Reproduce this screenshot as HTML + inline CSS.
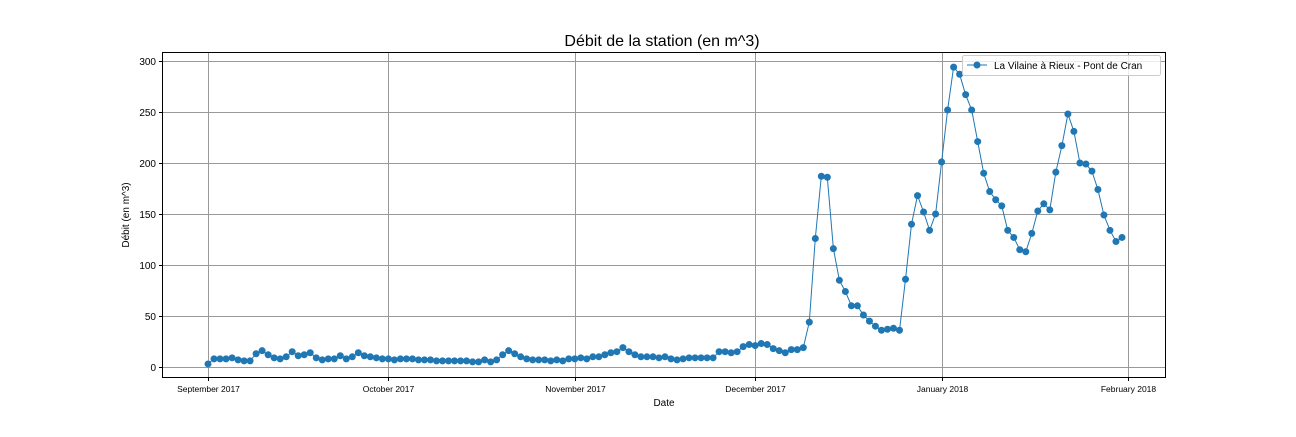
<!DOCTYPE html>
<html><head><meta charset="utf-8"><style>
body{margin:0;background:#fff;}
svg{font-family:"Liberation Sans","DejaVu Sans",sans-serif;}
</style></head><body>
<svg id="chart" width="1296" height="432">
<text x="662" y="46" font-size="16" text-anchor="middle">Débit de la station (en m^3)</text>
<g id="grid"></g>
<g id="series"></g>
<rect x="162.5" y="52.5" width="1003" height="325" fill="none" stroke="#000" stroke-width="1"/>
<g id="axes"></g>
<text x="664" y="406" font-size="10" text-anchor="middle">Date</text>
<text transform="translate(129,215) rotate(-90)" font-size="10" text-anchor="middle">Débit (en m^3)</text>
<g>
<rect x="962.5" y="55.5" width="198" height="20" rx="2" fill="#fff" fill-opacity="0.8" stroke="#ccc"/>
<line x1="967" y1="65" x2="987" y2="65" stroke="#1f77b4" stroke-width="1"/>
<circle cx="977" cy="65" r="3.5" fill="#1f77b4"/>
<text x="994" y="69" font-size="10">La Vilaine à Rieux - Pont de Cran</text>
</g>
</svg>
<script>
const values = [3,8,8,8,9,7,6,6,13,16,12,9,8,10,15,11,12,14,9,7,8,8,11,8,10,14,11,10,9,8,
8,7,8,8,8,7,7,7,6,6,6,6,6,6,5,5,7,5,7,12,16,13,10,8,7,7,7,6,7,6,8,
8,9,8,10,10,12,14,15,19,15,12,10,10,10,9,10,8,7,8,9,9,9,9,9,15,15,14,15,20,22,
21,23,22,18,16,14,17,17,19,44,126,187,186,116,85,74,60,60,51,45,40,36,37,38,36,86,140,168,152,134,150,
201,252,294,287,267,252,221,190,172,164,158,134,127,115,113,131,153,160,154,191,217,248,231,200,199,192,174,149,134,123,127];
const yTicks = [0,50,100,150,200,250,300];
const xTickLabels = ["September 2017","October 2017","November 2017","December 2017","January 2018","February 2018"];
const xTickDays = [0,30,61,91,122,153];

const NS="http://www.w3.org/2000/svg";
const xs = d => 208 + d*(920/153);
const ys = v => 367 - v*(306/300);
function mk(tag, attrs, parent){const e=document.createElementNS(NS,tag);for(const k in attrs)e.setAttribute(k,attrs[k]);parent.appendChild(e);return e;}
const grid=document.getElementById('grid'), axes=document.getElementById('axes'), series=document.getElementById('series');
yTicks.forEach(t=>{
  const y=Math.round(ys(t))+0.5;
  const g=mk('line',{x1:162,x2:1166,y1:y,y2:y,stroke:'#999','stroke-width':1},grid);
  
  
  mk('line',{x1:159,x2:162,y1:y,y2:y,stroke:'#000'},axes);
  const tx=mk('text',{x:156,y:y+3.5,'font-size':10,'text-anchor':'end'},axes);
  tx.textContent=t;
  
  
});
xTickDays.forEach((d,i)=>{
  const x=Math.round(xs(d))+0.5;
  const g=mk('line',{x1:x,x2:x,y1:52,y2:378,stroke:'#999','stroke-width':1},grid);
  
  
  mk('line',{x1:x,x2:x,y1:378,y2:381,stroke:'#000'},axes);
  const tx=mk('text',{x:x,y:392,'font-size':8.5,'text-anchor':'middle'},axes);
  tx.textContent=xTickLabels[i];
  
  
});
const pts=values.map((v,i)=>xs(i).toFixed(1)+','+ys(v).toFixed(1)).join(' ');
const pl=mk('polyline',{points:pts,fill:'none',stroke:'#1f77b4','stroke-width':1},series);


values.forEach((v,i)=>{
  const c=mk('circle',{cx:xs(i),cy:ys(v),r:3.5,fill:'#1f77b4'},series);
  
  
});
</script>
</body></html>
